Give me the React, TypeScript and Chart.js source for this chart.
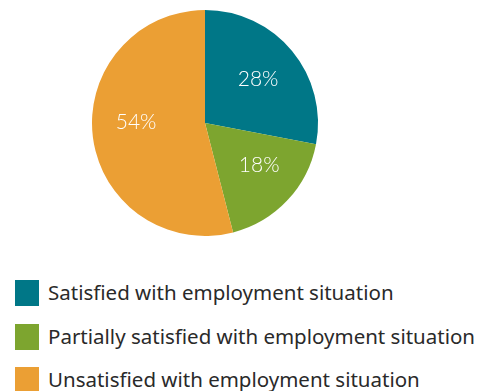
import React, { useEffect, useRef } from "react";
import { Chart, registerables } from "chart.js";

Chart.register(...registerables);

const categories = [
  "Satisfied with employment situation",
  "Partially satisfied with employment situation",
  "Unsatisfied with employment situation",
];
const values = [28, 18, 54];
const colors = ["#007787", "#7DA52F", "#EB9F34"];
// small angular nudge (degrees) for the percentage labels
const labelAngleNudge = [0, -5, 8];

const labelPlugin = {
  id: "sliceLabels",
  afterDatasetsDraw(chart: any) {
    const { ctx } = chart;
    const meta = chart.getDatasetMeta(0);
    ctx.save();
    ctx.fillStyle = "#ffffff";
    ctx.font = "300 21px Lato, 'Noto Sans', sans-serif";
    ctx.textAlign = "center";
    ctx.textBaseline = "middle";
    meta.data.forEach((arc: any, i: number) => {
      const p = arc.getProps(["x", "y", "startAngle", "endAngle", "outerRadius"], true);
      const mid = (p.startAngle + p.endAngle) / 2 + (labelAngleNudge[i] * Math.PI) / 180;
      const r = p.outerRadius * 0.61;
      ctx.fillText(values[i] + "%", p.x + Math.cos(mid) * r, p.y + Math.sin(mid) * r);
    });
    ctx.restore();
  },
};

export default function App() {
  const ref = useRef<HTMLCanvasElement>(null);
  useEffect(() => {
    if (!ref.current) return;
    const chart = new Chart(ref.current, {
      type: "pie",
      data: {
        labels: categories,
        datasets: [
          {
            data: values,
            backgroundColor: colors,
            borderWidth: 0,
          },
        ],
      },
      options: {
        animation: false,
        responsive: false,
        layout: { padding: { left: 0, right: 69, top: 10, bottom: 10 } },
        plugins: { legend: { display: false }, tooltip: { enabled: false } },
      },
      plugins: [labelPlugin],
    });
    return () => chart.destroy();
  }, []);

  return (
    <div style={{ position: "absolute", left: 0, top: 0, width: 479, height: 391, background: "#fff", overflow: "hidden" }}>
      <canvas ref={ref} width={479} height={246} style={{ display: "block", width: 479, height: 246 }} />
      <div style={{ position: "absolute", left: 15, top: 280 }}>
        {categories.map((c, i) => (
          <div key={c} style={{ display: "flex", alignItems: "center", height: 26, marginBottom: 17.5 }}>
            <div style={{ width: 24, height: 26, background: colors[i], flex: "none" }} />
            <span style={{ marginLeft: 9, position: "relative", top: -1, font: "20.5px 'Noto Sans', sans-serif", color: "#2a2a2a", whiteSpace: "nowrap" }}>{c}</span>
          </div>
        ))}
      </div>
    </div>
  );
}
